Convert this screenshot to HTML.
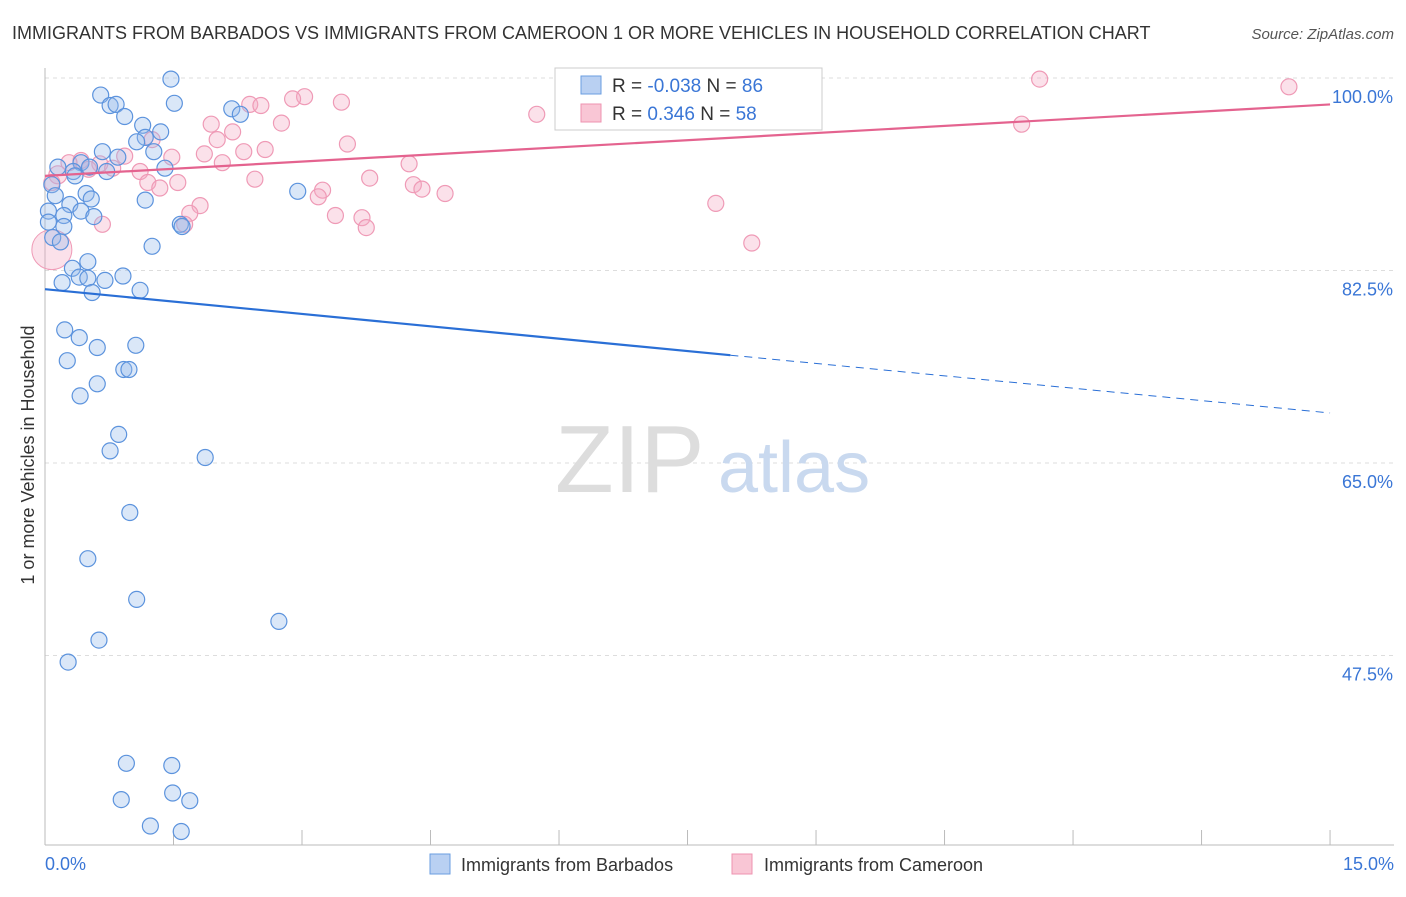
<!DOCTYPE html>
<html><head><meta charset="utf-8">
<style>
body{margin:0;background:#fff;font-family:"Liberation Sans",sans-serif;}
svg text{font-family:"Liberation Sans",sans-serif;}
</style></head>
<body>
<svg id="chart" width="1406" height="892" viewBox="0 0 1406 892">
<text x="12" y="39" font-size="18" fill="#333">IMMIGRANTS FROM BARBADOS VS IMMIGRANTS FROM CAMEROON 1 OR MORE VEHICLES IN HOUSEHOLD CORRELATION CHART</text>
<text x="1394" y="39" font-size="15" fill="#555" font-style="italic" text-anchor="end">Source: ZipAtlas.com</text>
<g id="grid"></g>
<g id="axes"></g>
<text x="555" y="492" font-size="96" fill="#ddd" font-family="Liberation Serif">ZIP</text>
<text x="718" y="492" font-size="72" fill="#c9d9ef">atlas</text>
<g id="marks"></g>
<text transform="translate(34,455) rotate(-90)" font-size="18" fill="#333" text-anchor="middle">1 or more Vehicles in Household</text>
<g>
<rect x="555" y="68" width="267" height="62" fill="#fff" stroke="#ccc"/>
<rect x="581" y="76" width="20" height="18" fill="#b9d0f2" stroke="#6a9ee0"/>
<rect x="581" y="104" width="20" height="18" fill="#f9c6d5" stroke="#ee93b0"/>
<text x="612" y="92" font-size="19" fill="#333">R = <tspan fill="#3a76d6">-0.038</tspan>   N = <tspan fill="#3a76d6">86</tspan></text>
<text x="612" y="120" font-size="19" fill="#333">R =   <tspan fill="#3a76d6">0.346</tspan>   N = <tspan fill="#3a76d6">58</tspan></text>
</g>
<g>
<rect x="430" y="854" width="20" height="20" fill="#b9d0f2" stroke="#6a9ee0"/>
<text x="461" y="871" font-size="18" fill="#333">Immigrants from Barbados</text>
<rect x="732" y="854" width="20" height="20" fill="#f9c6d5" stroke="#ee93b0"/>
<text x="764" y="871" font-size="18" fill="#333">Immigrants from Cameroon</text>
</g>
</svg>
<script>
const yTicks=[100,82.5,65,47.5];
const yTickLabels=["100.0%","82.5%","65.0%","47.5%"];
const xTicks=[0,1.5,3,4.5,6,7.5,9,10.5,12,13.5,15];
const blueX=[1.47,0.65,0.76,0.83,1.51,0.93,2.18,2.28,1.14,1.35,1.17,1.07,1.27,0.67,0.85,0.15,0.42,0.33,0.72,1.40,0.08,0.48,2.95,1.17,0.54,0.29,0.04,0.22,0.42,0.57,1.58,1.60,0.22,0.09,0.18,1.25,0.32,0.50,0.40,0.50,0.20,0.70,0.91,0.55,1.11,0.23,0.40,0.61,1.06,0.26,0.61,0.92,0.98,0.41,0.86,0.76,1.87,0.99,0.50,1.07,2.73,0.63,0.27,0.95,1.48,0.89,1.49,1.69,1.23,1.59,6.68,0.04,0.12,0.35,0.52];
const blueY=[99.9,98.45,97.5,97.6,97.7,96.5,97.2,96.7,95.7,95.1,94.6,94.2,93.3,93.3,92.8,91.9,92.3,91.5,91.5,91.8,90.3,89.5,89.7,88.9,89.0,88.5,87.9,87.5,87.9,87.4,86.7,86.5,86.5,85.5,85.1,84.7,82.7,83.3,81.9,81.8,81.4,81.6,82.0,80.5,80.7,77.1,76.4,75.5,75.7,74.3,72.2,73.5,73.5,71.1,67.6,66.1,65.5,60.5,56.3,52.6,50.6,48.9,46.9,37.7,37.5,34.4,35.0,34.3,32.0,31.5,99.8,86.9,89.3,91.1,91.9];
const pinkX=[11.61,14.52,8.94,5.74,3.03,2.89,3.46,2.39,2.52,2.76,1.94,2.19,2.01,3.53,2.57,2.32,1.86,1.48,0.93,4.25,2.07,1.25,0.64,0.42,0.28,0.51,1.11,0.79,2.45,1.55,1.20,1.34,3.79,3.24,3.19,4.30,4.40,4.67,1.81,1.69,1.63,3.39,3.70,3.75,0.67,7.83,8.25,11.40,0.15,0.08];
const pinkY=[99.9,99.2,97.3,96.7,98.3,98.1,97.8,97.6,97.5,95.9,95.8,95.1,94.4,94.0,93.5,93.3,93.1,92.8,92.9,92.2,92.3,94.4,92.2,92.5,92.3,91.7,91.5,91.8,90.8,90.5,90.5,90.0,90.9,89.8,89.2,90.3,89.9,89.5,88.4,87.7,86.7,87.5,87.3,86.4,86.7,88.6,85.0,95.8,91.2,90.5];
const blueLine=[80.8,-0.75];
const pinkLine=[91.1,0.433];
const blueSolidEnd=8.0;
const NS="http://www.w3.org/2000/svg";
const sx=v=>45+v*85.67, sy=v=>78+(100-v)*11;
function mk(tag,attrs,parent){const e=document.createElementNS(NS,tag);for(const k in attrs)e.setAttribute(k,attrs[k]);parent.appendChild(e);return e;}
const grid=document.getElementById('grid'),axes=document.getElementById('axes'),marks=document.getElementById('marks');
yTicks.forEach((t,i)=>{
 const l=mk('line',{x1:45,x2:1394,y1:sy(t),y2:sy(t),stroke:'#ddd','stroke-dasharray':'4,4'},grid);
 
 
 const tx=mk('text',{x:1393,y:sy(t)+25,'font-size':18,fill:'#3a76d6','text-anchor':'end'},axes);
 tx.textContent=yTickLabels[i];
 
 
});
const ax=mk('line',{x1:45,x2:45,y1:68,y2:845,stroke:'#bbb'},axes);


const bx=mk('line',{x1:45,x2:1394,y1:845,y2:845,stroke:'#bbb'},axes);


xTicks.forEach(t=>{
 const l=mk('line',{x1:sx(t),x2:sx(t),y1:830,y2:845,stroke:'#bbb'},axes);
 
 
});
const x0=mk('text',{x:45,y:870,'font-size':18,fill:'#3a76d6'},axes);x0.textContent='0.0%';


const x1=mk('text',{x:1394,y:870,'font-size':18,fill:'#3a76d6','text-anchor':'end'},axes);x1.textContent='15.0%';


pinkX.forEach((x,i)=>{
 const c=mk('circle',{cx:sx(x),cy:sy(pinkY[i]),r:i===pinkX.length-2?9:8,fill:'rgba(244,170,195,0.35)',stroke:'#ef9ab6','stroke-width':1.2},marks);
 
 
});
const big=mk('circle',{cx:sx(0.08),cy:sy(84.4),r:20,fill:'rgba(244,170,195,0.35)',stroke:'#ef9ab6'},marks);


blueX.forEach((x,i)=>{
 const c=mk('circle',{cx:sx(x),cy:sy(blueY[i]),r:8,fill:'rgba(150,185,235,0.35)',stroke:'#5c93dd','stroke-width':1.2},marks);
 
 
});
const bl=v=>blueLine[0]+blueLine[1]*v, pl=v=>pinkLine[0]+pinkLine[1]*v;
const b1=mk('line',{x1:sx(0),y1:sy(bl(0)),x2:sx(blueSolidEnd),y2:sy(bl(blueSolidEnd)),stroke:'#2a6fd6','stroke-width':2.2},marks);


const b2=mk('line',{x1:sx(blueSolidEnd),y1:sy(bl(blueSolidEnd)),x2:sx(15),y2:sy(bl(15)),stroke:'#2a6fd6','stroke-width':1,'stroke-dasharray':'8,6'},marks);


const p1=mk('line',{x1:sx(0),y1:sy(pl(0)),x2:sx(15),y2:sy(pl(15)),stroke:'#e4638f','stroke-width':2.2},marks);


</script>
</body></html>
